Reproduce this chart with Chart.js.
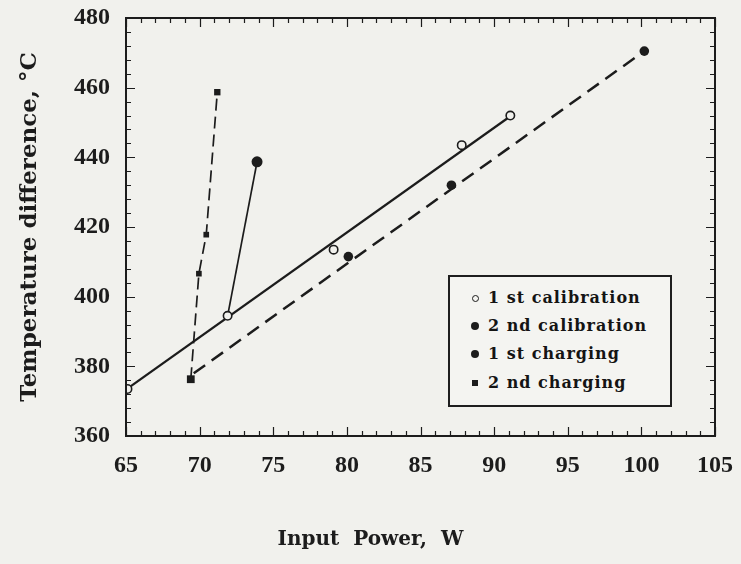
<!DOCTYPE html>
<html>
<head>
<meta charset="utf-8">
<script src="https://cdn.jsdelivr.net/npm/chart.js@4/dist/chart.umd.min.js"></script>
<style>
html,body{margin:0;padding:0;background:#f1f1ed;}
#wrap{position:relative;width:741px;height:564px;}
#legend{position:absolute;left:448px;top:275px;width:224px;height:132px;border:2px solid #1e1e1e;box-sizing:border-box;background:#f4f4f1;font-family:"DejaVu Serif",serif;font-size:16px;font-weight:bold;letter-spacing:1px;color:#141414;}
.row{position:absolute;left:0;width:100%;height:22px;}
.mk{position:absolute;box-sizing:border-box;}
.tx{position:absolute;left:38px;top:0;line-height:22px;white-space:nowrap;}
</style>
</head>
<body>
<div id="wrap">
<canvas id="c" width="741" height="564"></canvas>
<div id="legend"></div>
</div>
<script>
// ---- data ----
const xTickLabels = [65, 70, 75, 80, 85, 90, 95, 100, 105];
const yTickLabels = [360, 380, 400, 420, 440, 460, 480];

const seriesNames = ['1 st calibration', '2 nd calibration', '1 st charging', '2 nd charging'];

const cal1X = [65.1, 71.9, 79.1, 87.8, 91.1];
const cal1Y = [373.5, 394.5, 413.5, 443.5, 452.0];
const cal1FitX = [65.0, 91.1];
const cal1FitY = [373.3, 451.8];

const cal2X = [80.1, 87.1, 100.2];
const cal2Y = [411.5, 432.0, 470.5];
const cal2FitX = [69.6, 100.2];
const cal2FitY = [378.0, 470.5];

const chg1X = [71.9, 73.9];
const chg1Y = [394.5, 438.7];

const chg2X = [69.4, 69.95, 70.45, 71.2];
const chg2Y = [376.3, 406.6, 417.8, 458.7];

const pts = (xs, ys) => xs.map((x, i) => ({x: x, y: ys[i]}));
const INK = '#1c1c1c';
const BG = '#f1f1ed';

// ---- legend (HTML) ----
const legendMarkers = [
  'left:22px;top:8px;width:7px;height:7px;border:1.5px solid #1c1c1c;border-radius:50%;',
  'left:21px;top:7px;width:8px;height:8px;background:#1c1c1c;border-radius:50%;',
  'left:21px;top:7px;width:8px;height:8px;background:#1c1c1c;border-radius:50%;',
  'left:22px;top:8px;width:6px;height:6px;background:#1c1c1c;'
];
const rowTops = [10, 38, 66, 95];
const lg = document.getElementById('legend');
seriesNames.forEach((n, i) => {
  const r = document.createElement('div');
  r.className = 'row';
  r.style.top = rowTops[i] + 'px';
  r.innerHTML = '<span class="mk" style="' + legendMarkers[i] + '"></span><span class="tx">' + n + '</span>';
  lg.appendChild(r);
});

// ---- frame with inward ticks ----
const framePlugin = {
  id: 'frame',
  afterDraw(chart) {
    const {ctx, chartArea: a, scales: {x, y}} = chart;
    ctx.save();
    ctx.strokeStyle = INK;
    ctx.lineWidth = 2;
    ctx.strokeRect(a.left, a.top, a.right - a.left, a.bottom - a.top);
    ctx.lineWidth = 1.2;
    ctx.beginPath();
    for (let v = x.min; v <= x.max + 1e-6; v += 1) {
      const px = Math.round(x.getPixelForValue(v)) + 0.5;
      const L = (Math.round(v) % 5 === 0) ? 9 : 5;
      ctx.moveTo(px, a.bottom); ctx.lineTo(px, a.bottom - L);
      ctx.moveTo(px, a.top); ctx.lineTo(px, a.top + L);
    }
    for (let v = y.min; v <= y.max + 1e-6; v += 4) {
      const py = Math.round(y.getPixelForValue(v)) + 0.5;
      const L = (Math.round(v) % 20 === 0) ? 9 : 5;
      ctx.moveTo(a.left, py); ctx.lineTo(a.left + L, py);
      ctx.moveTo(a.right, py); ctx.lineTo(a.right - L, py);
    }
    ctx.stroke();
    ctx.restore();
  }
};

const tickFont = {family: 'Liberation Serif', size: 24, weight: 'bold'};
const xTitleFont = {family: 'DejaVu Serif', size: 20, weight: 'bold'};
const yTitleFont = {family: 'DejaVu Serif', size: 23, weight: 'bold'};
const hiddenTicks = {display: true, drawOnChartArea: false, drawTicks: true, tickColor: 'rgba(0,0,0,0)'};

new Chart(document.getElementById('c'), {
  type: 'scatter',
  data: {
    datasets: [
      {label: seriesNames[0], data: pts(cal1X, cal1Y), showLine: false,
       pointStyle: 'circle', pointRadius: 4.2, borderWidth: 1.6,
       borderColor: INK, backgroundColor: BG},
      {label: seriesNames[1], data: pts(cal2X, cal2Y), showLine: false,
       pointStyle: 'circle', pointRadius: 4.8, borderWidth: 0,
       borderColor: INK, backgroundColor: INK},
      {label: seriesNames[2], data: pts(chg1X, chg1Y), showLine: true,
       pointStyle: ['rect', 'circle'], pointRadius: [4, 5.5], pointBorderWidth: [1.2, 0],
       pointBackgroundColor: ['rgba(0,0,0,0)', INK], pointBorderColor: INK,
       borderColor: INK, borderWidth: 1.7, backgroundColor: INK},
      {label: seriesNames[3], data: pts(chg2X, chg2Y), showLine: true,
       pointStyle: 'rect', pointRadius: [5.5, 4, 4, 4.5], borderDash: [12, 6],
       pointBorderWidth: 0, pointBackgroundColor: INK,
       borderColor: INK, borderWidth: 1.7, backgroundColor: INK},
      {label: 'fit1', data: pts(cal1FitX, cal1FitY), showLine: true, pointRadius: 0,
       borderColor: INK, borderWidth: 2.2},
      {label: 'fit2', data: pts(cal2FitX, cal2FitY), showLine: true, pointRadius: 0,
       borderColor: INK, borderWidth: 2.5, borderDash: [14, 8]}
    ]
  },
  options: {
    responsive: false,
    animation: false,
    layout: {padding: {left: 0, right: 0, top: 18, bottom: 0}},
    plugins: {
      legend: {display: false},
      tooltip: {enabled: false},
      title: {display: true, text: 'Input  Power,  W', position: 'bottom',
              font: xTitleFont, color: INK, padding: {top: 0, bottom: 12}}
    },
    scales: {
      x: {
        type: 'linear', min: 65, max: 105,
        grid: Object.assign({tickLength: 15}, hiddenTicks), border: {display: false},
        afterBuildTicks(s) { s.ticks = xTickLabels.map(v => ({value: v})); },
        ticks: {font: tickFont, color: INK, padding: 0, maxRotation: 0, autoSkip: false},
        afterFit(s) { s.height = 92; }
      },
      y: {
        type: 'linear', min: 360, max: 480,
        grid: Object.assign({tickLength: 16}, hiddenTicks), border: {display: false},
        afterBuildTicks(s) { s.ticks = yTickLabels.map(v => ({value: v})); },
        ticks: {font: tickFont, color: INK, padding: 0, autoSkip: false},
        title: {display: true, text: 'Temperature difference, °C', font: yTitleFont,
                color: INK, padding: {top: 16, bottom: 0}},
        afterFit(s) { s.width = 126; }
      },
      yRight: {
        type: 'linear', position: 'right', min: 360, max: 480,
        grid: {display: false, drawTicks: false}, border: {display: false},
        ticks: {display: false},
        afterFit(s) { s.width = 26; }
      }
    }
  },
  plugins: [framePlugin]
});
</script>
</body>
</html>
